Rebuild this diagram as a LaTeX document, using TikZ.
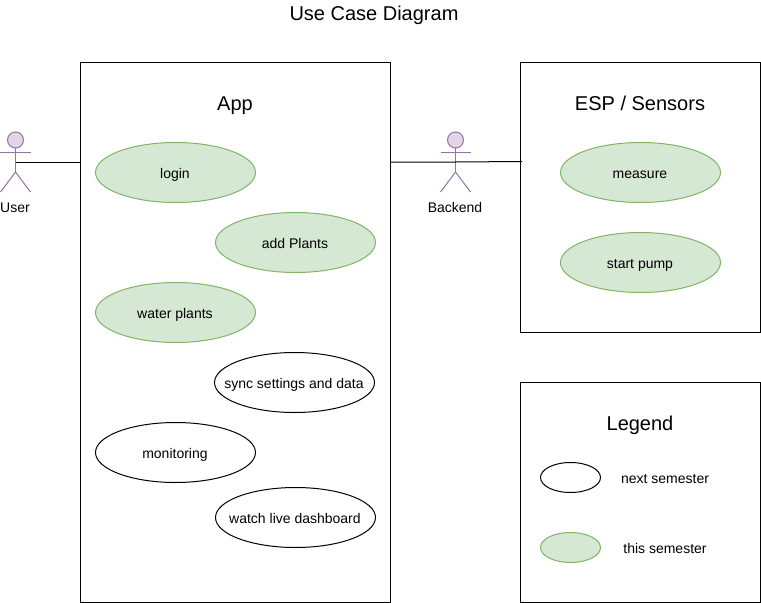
\documentclass[tikz,border=0pt]{standalone}
\usepackage{fontspec}
\setmainfont{Liberation Sans}
\usetikzlibrary{shapes.geometric}
\definecolor{doneFill}{HTML}{D5E8D4}
\definecolor{doneLine}{HTML}{82B366}
\definecolor{actorFill}{HTML}{E1D5E7}
\definecolor{actorLine}{HTML}{9673A6}
\newcommand{\caselabel}[1]{\makebox[0pt]{\kern-0.8pt #1}}
\begin{document}
\begin{tikzpicture}[x=0.75pt,y=-0.75pt,line width=0.75pt,
        sysbox/.style={draw,rectangle,inner sep=0pt},
        usecase/.style={draw,ellipse,inner sep=0pt,minimum width=120pt,minimum height=45pt,
            font=\fontsize{10.5pt}{12pt}\selectfont,text height=10.6pt,text depth=2.2pt},
        donecase/.style={fill=doneFill,draw=doneLine},
        key/.style={draw,ellipse,inner sep=0pt,minimum width=45pt,minimum height=22.5pt},
        heading/.style={font=\fontsize{15pt}{18pt}\selectfont,text height=13.8pt,text depth=3.2pt},
        caption/.style={font=\fontsize{10.5pt}{12pt}\selectfont,text height=10.6pt,text depth=2.2pt},
        actorpart/.style={draw=actorLine}]
\useasboundingbox (0,0) rectangle (761,603);

\node[heading] (title) at (374,13) {Use Case Diagram};

% the three boxes
\node[sysbox,minimum width=232.5pt,minimum height=405pt] (app) at (235.5,332.5) {};
\node[sysbox,minimum width=180pt,minimum height=202.5pt] (esp) at (640.5,197.5) {};
\node[sysbox,minimum width=180pt,minimum height=165pt] (legend) at (640.5,492.5) {};
\node[heading] (apptitle) at (235,103) {App};
\node[heading] (esptitle) at (640,103) {ESP / Sensors};
\node[heading] (legendtitle) at (640,423) {Legend};

% use cases
\node[usecase,donecase] (login) at (175.5,172.5) {\caselabel{login}};
\node[usecase,donecase] (addplants) at (295.5,242.5) {\caselabel{add Plants}};
\node[usecase,donecase] (water) at (175.5,312.5) {\caselabel{water plants}};
\node[usecase] (sync) at (294.5,382.5) {\caselabel{sync settings and data}};
\node[usecase] (monitoring) at (175.5,452.5) {\caselabel{monitoring}};
\node[usecase] (dashboard) at (295.5,517.5) {\caselabel{watch live dashboard}};
\node[usecase,donecase] (measure) at (640.5,172.5) {\caselabel{measure}};
\node[usecase,donecase] (pump) at (640.5,262.5) {\caselabel{start pump}};

% legend
\node[key] (keynext) at (570.5,477.5) {};
\node[key,donecase] (keythis) at (570.5,547.5) {};
\node[caption] (nextlabel) at (665,478) {next semester};
\node[caption] (thislabel) at (665,548) {this semester};

% actors
\foreach \name/\x in {user/15.5,backend/455.5} {
    \draw[actorpart,fill=actorFill] (\x,140) circle (6pt);
    \draw[actorpart] (\x,148) -- (\x,172);
    \draw[actorpart] (\x-15,152.5) -- (\x+15,152.5);
    \draw[actorpart] (\x-15,192) -- (\x,172) -- (\x+15,192);
    \coordinate (\name) at (\x,162);
}
\node[caption] (userlabel) at (15,207) {User};
\node[caption] (backendlabel) at (455,207) {Backend};

\coordinate (espport) at (522,161.5);
\draw (user) -- (user-|app.west);
\draw (user-|app.east) -- (backend) -- (espport);
\end{tikzpicture}
\end{document}
